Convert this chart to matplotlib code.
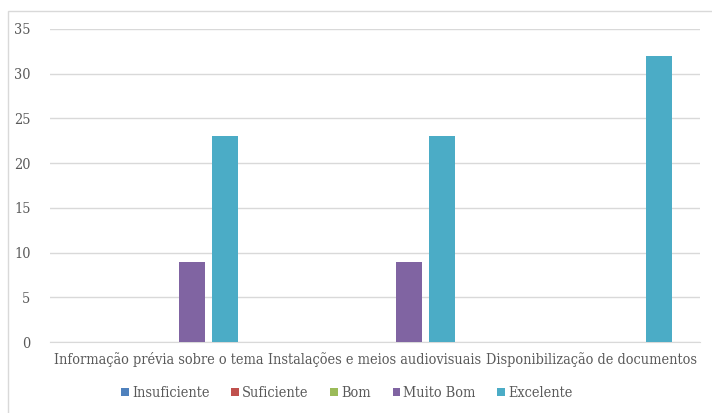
import matplotlib
matplotlib.use("Agg")
import matplotlib.pyplot as plt
from matplotlib.patches import Rectangle
import numpy as np

categories = ["Informação prévia sobre o tema",
              "Instalações e meios audiovisuais",
              "Disponibilização de documentos"]
series_names = ["Insuficiente", "Suficiente", "Bom", "Muito Bom", "Excelente"]
insuficiente = [0, 0, 0]
suficiente = [0, 0, 0]
bom = [0, 0, 0]
muito_bom = [9, 9, 0]
excelente = [23, 23, 32]
y_ticks = [0, 5, 10, 15, 20, 25, 30, 35]

series_values = [insuficiente, suficiente, bom, muito_bom, excelente]
colors = ["#4F81BD", "#C0504D", "#9BBB59", "#8064A2", "#4BACC6"]

plt.rcParams["font.family"] = ["DejaVu Serif"]
plt.rcParams["font.stretch"] = "condensed"
text_color = "#595959"

fig = plt.figure(figsize=(7.12, 4.13), dpi=100)
# chart area frame
fig.add_artist(Rectangle((8 / 712, -0.1), 1.2, (413 - 11) / 413 + 0.1,
                         transform=fig.transFigure, fill=False,
                         edgecolor="#D9D9D9", linewidth=1.0))

ax = fig.add_axes([50 / 712, 1 - 342 / 413, 650 / 712, (342 - 29) / 413])

n = len(series_names)
step = 0.155
width = 0.12
x = np.arange(len(categories))
for i, (name, vals, c) in enumerate(zip(series_names, series_values, colors)):
    offs = (i - (n - 1) / 2) * step
    ax.bar(x + offs, vals, width=width, color=c, label=name, zorder=3)

ax.set_xlim(-0.5, len(categories) - 0.5)
ax.set_ylim(0, 35)
ax.set_yticks(y_ticks)
ax.set_xticks(x)
ax.set_xticklabels(categories)
ax.yaxis.grid(True, color="#D9D9D9", linewidth=1.0, zorder=0)
for s in ["top", "right", "left"]:
    ax.spines[s].set_visible(False)
ax.spines["bottom"].set_color("#D9D9D9")
ax.tick_params(axis="both", length=0, colors=text_color, labelsize=10.4)
ax.tick_params(axis="y", pad=14)
ax.tick_params(axis="x", pad=7)

handles, labels = ax.get_legend_handles_labels()
fig.legend(handles, labels, loc="center", bbox_to_anchor=(347 / 712, 1 - 393 / 413),
           ncol=5, frameon=False, fontsize=10.4, labelcolor=text_color,
           handlelength=0.55, handleheight=0.55, handletextpad=0.2, columnspacing=1.5)

fig.savefig("out.png", dpi=100, facecolor="white")
